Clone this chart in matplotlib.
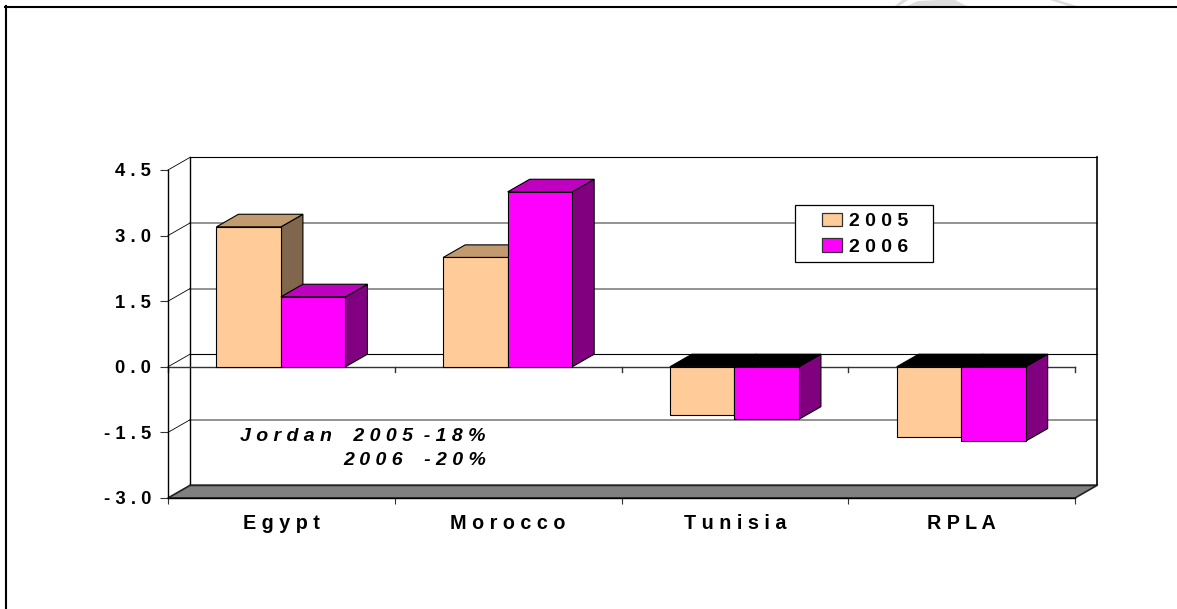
#!/usr/bin/env python3
"""3D-style clustered bars, drawn by hand as polygons on a plain 2D axes."""
import numpy as np
import matplotlib
matplotlib.use('Agg')
import matplotlib.pyplot as plt
from matplotlib.lines import Line2D
from matplotlib.patches import Patch, Polygon, Rectangle

plt.rcParams['font.family'] = ['Liberation Sans', 'DejaVu Sans']

W, H = 1177, 609

categories = ["Egypt", "Morocco", "Tunisia", "RPLA"]
years = ["2005", "2006"]
values_2005 = [3.2, 2.5, -1.1, -1.6]
values_2006 = [1.6, 4.0, -1.2, -1.7]
y_ticks = [-3.0, -1.5, 0.0, 1.5, 3.0, 4.5]


def spaced(s):
    # the original chart letter-spaces all its text
    return " ".join(s)


def fig_xy(x, y):
    return x / W, 1 - y / H


def face(ax, pts, color, z):
    ax.add_patch(Polygon(pts, closed=True, facecolor=color, edgecolor="black",
                         linewidth=0.8, clip_on=False, zorder=z, joinstyle="miter"))


def draw_bar(ax, x0, width, val, front, top, side, dx, dy, z):
    x1 = x0 + width
    # side, then top, then the front face over them
    face(ax, [(x1, 0), (x1 + dx, dy), (x1 + dx, val + dy), (x1, val)], side, z)
    y_top = max(val, 0)
    top_col = "black" if val < 0 else top
    face(ax, [(x0, y_top), (x1, y_top), (x1 + dx, y_top + dy), (x0 + dx, y_top + dy)], top_col, z)
    face(ax, [(x0, 0), (x1, 0), (x1, val), (x0, val)], front, z)


def main():
    fig = plt.figure(figsize=(W / 100, H / 100), dpi=100, facecolor="white")

    # page frame, only left and top are visible
    fig.add_artist(Line2D([6 / W, 6 / W], [0, 1 - 6 / H], color="black", lw=1.5))
    fig.add_artist(Line2D([5 / W, 1], [1 - 7 / H, 1 - 7 / H], color="black", lw=1.5))
    # watermark leftovers at the top edge
    for pts in ([(895, 6), (902, 0), (908, 0), (899, 6)],
                ((907, 6), (918, 1), (938, 0), (955, 0), (967, 6)),
                ((1050, 0), (1058, 0), (1077, 6), (1068, 6))):
        fig.add_artist(Polygon([fig_xy(*p) for p in pts], closed=True,
                               facecolor="#dddddd", edgecolor="none",
                               transform=fig.transFigure))

    px_l, px_r, px_t, px_b = 168, 1075, 170, 498
    ax = fig.add_axes([px_l / W, 1 - px_b / H, (px_r - px_l) / W, (px_b - px_t) / H])
    ax.set_xlim(0, len(categories))
    ax.set_ylim(y_ticks[0], y_ticks[-1])
    ax.patch.set_alpha(0)

    # depth of the fake 3D, in data units
    dx = 22 / ((px_r - px_l) / len(categories))
    dy = 12.6 / ((px_b - px_t) / (y_ticks[-1] - y_ticks[0]))
    x_max = len(categories)
    y_lo, y_hi = y_ticks[0], y_ticks[-1]

    # walls
    for v in y_ticks:
        col = "black" if v in (y_hi, 0.0) else "#808080"
        lw = 0.8 if v in (y_hi, 0.0) else 1.2
        ax.plot([dx, x_max + dx], [v + dy, v + dy], color=col, lw=lw, clip_on=False, zorder=1)
        ax.plot([0, dx], [v, v + dy], color="black", lw=0.6, clip_on=False, zorder=1)
    ax.plot([dx, dx], [y_lo + dy, y_hi + dy], color="black", lw=1.0, clip_on=False, zorder=1)
    ax.plot([x_max + dx, x_max + dx], [y_lo + dy, y_hi + dy], color="black", lw=1.2,
            clip_on=False, zorder=1)
    # floor
    ax.add_patch(Polygon([(0, y_lo), (x_max, y_lo), (x_max + dx, y_lo + dy), (dx, y_lo + dy)],
                         closed=True, facecolor="#808080", edgecolor="#222222", linewidth=1.2,
                         clip_on=False, zorder=1.5))

    # front zero line with its ticks
    ax.axhline(0, color="#333333", lw=1.0, zorder=2, clip_on=False)
    for i in range(x_max + 1):
        ax.plot([i, i], [0, -5 / 43.7], color="#333333", lw=1.0, clip_on=False, zorder=2)

    bw = 64.5 / ((px_r - px_l) / len(categories))
    z = 3
    for i in range(len(categories)):
        c = i + 0.5 - 0.002
        draw_bar(ax, c - bw, bw, values_2005[i], "#FFCC99", "#C19A70", "#80664D", dx, dy, z)
        draw_bar(ax, c, bw, values_2006[i], "#FF00FF", "#BF00BF", "#800080", dx, dy, z + 0.5)
        z += 1

    ax.set_yticks(y_ticks)
    ax.set_yticklabels([spaced(f"{v:.1f}") for v in y_ticks], fontsize=13.3,
                       fontweight="bold")
    ax.tick_params(axis="y", length=5.5, width=0.8, pad=6.5, color="#333333")
    ax.set_xticks(np.arange(x_max + 1))
    ax.set_xticklabels([])
    ax.tick_params(axis="x", which="major", length=4, width=0.8, color="#333333")
    ax.set_xticks(np.arange(x_max) + 0.5, minor=True)
    ax.set_xticklabels([spaced(c) for c in categories], minor=True, fontsize=14.2,
                       fontweight="bold")
    ax.tick_params(axis="x", which="minor", length=0, pad=11.5)
    for s in ("top", "right"):
        ax.spines[s].set_visible(False)
    ax.spines["left"].set_linewidth(1.0)
    ax.spines["bottom"].set_linewidth(1.0)

    # legend box sits above the gridlines
    fig.add_artist(Rectangle((795 / W, 1 - 262 / H), 138 / W, 57 / H, facecolor="white",
                             edgecolor="black", linewidth=0.9, transform=fig.transFigure,
                             zorder=5))
    handles = [Patch(facecolor="#FFCC99", edgecolor="#333333", linewidth=0.9),
               Patch(facecolor="#FF00FF", edgecolor="#333333", linewidth=0.9)]
    leg = fig.legend(handles, [spaced(y) for y in years], loc="upper left",
                     bbox_to_anchor=fig_xy(822, 212.5), frameon=False, borderaxespad=0,
                     borderpad=0, handlelength=1.03, handleheight=0.72,
                     handletextpad=0.36, labelspacing=0.39,
                     prop={"weight": "bold", "size": 14})
    leg.set_zorder(6)

    # note inside the plot
    note_kw = dict(fontsize=14, fontweight="bold", fontstyle="italic", ha="right",
                   va="baseline", transform=fig.transFigure, zorder=6)
    fig.text(*fig_xy(486, 441), spaced("Jordan") + " " * 4 + spaced("2005") + "  " + spaced("-18%"),
             **note_kw)
    fig.text(*fig_xy(486, 465), spaced("2006") + " " * 4 + spaced("-20%"), **note_kw)

    fig.savefig("out.png", dpi=100)
    plt.close(fig)


if __name__ == "__main__":
    main()
